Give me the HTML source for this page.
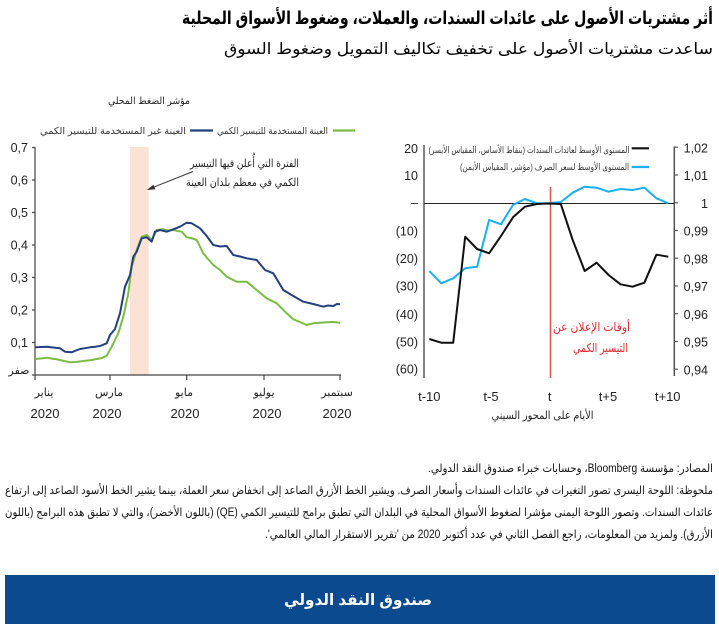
<!DOCTYPE html>
<html><head><meta charset="utf-8"><style>
html,body{margin:0;padding:0;background:#fff;}
svg{display:block;}
.ar{font-family:"Liberation Sans","DejaVu Sans",sans-serif;}
.num{font-family:"Liberation Sans",sans-serif;}
</style></head><body>
<svg width="719" height="624" viewBox="0 0 719 624" xmlns="http://www.w3.org/2000/svg">
<rect width="719" height="624" fill="#fff"/>

<!-- Titles -->
<text class="ar" x="447.5" y="24" font-size="18" font-weight="bold" text-anchor="middle" direction="rtl" textLength="531" lengthAdjust="spacingAndGlyphs" fill="#000">أثر مشتريات الأصول على عائدات السندات، والعملات، وضغوط الأسواق المحلية</text>
<text class="ar" x="468.5" y="54" font-size="15.5" text-anchor="middle" direction="rtl" textLength="489" lengthAdjust="spacingAndGlyphs" fill="#000">ساعدت مشتريات الأصول على تخفيف تكاليف التمويل وضغوط السوق</text>

<!-- LEFT CHART -->
<text class="ar" x="149" y="104" font-size="10" text-anchor="middle" direction="rtl" textLength="82" lengthAdjust="spacingAndGlyphs" fill="#222">مؤشر الضغط المحلي</text>
<text class="ar" x="113" y="134" font-size="9.5" text-anchor="middle" direction="rtl" textLength="146" lengthAdjust="spacingAndGlyphs" fill="#333">العينة غير المستخدمة للتيسير الكمي</text>
<line x1="190" y1="130.5" x2="213" y2="130.5" stroke="#22407e" stroke-width="2.2"/>
<text class="ar" x="272.5" y="134" font-size="9.5" text-anchor="middle" direction="rtl" textLength="111" lengthAdjust="spacingAndGlyphs" fill="#333">العينة المستخدمة للتيسير الكمي</text>
<line x1="333" y1="130.5" x2="355" y2="130.5" stroke="#7cbb44" stroke-width="2.2"/>

<rect x="130" y="147" width="18.7" height="228" fill="#fbe2d4"/>

<g stroke="#444" stroke-width="1.2" fill="none">
<line x1="35" y1="147" x2="35" y2="375"/>
<line x1="35" y1="375" x2="341" y2="375"/>
<line x1="32" y1="147.5" x2="35" y2="147.5"/>
<line x1="32" y1="180" x2="35" y2="180"/>
<line x1="32" y1="212.5" x2="35" y2="212.5"/>
<line x1="32" y1="245" x2="35" y2="245"/>
<line x1="32" y1="277.5" x2="35" y2="277.5"/>
<line x1="32" y1="310" x2="35" y2="310"/>
<line x1="32" y1="342.5" x2="35" y2="342.5"/>
<line x1="32" y1="375" x2="35" y2="375"/>
<line x1="35" y1="375" x2="35" y2="380"/>
<line x1="110" y1="375" x2="110" y2="380"/>
<line x1="186.7" y1="375" x2="186.7" y2="380"/>
<line x1="264" y1="375" x2="264" y2="380"/>
<line x1="340" y1="375" x2="340" y2="380"/>
</g>
<g class="num" font-size="12.5" fill="#222" text-anchor="end">
<text x="28" y="152">0,7</text>
<text x="28" y="184.5">0,6</text>
<text x="28" y="217">0,5</text>
<text x="28" y="249.5">0,4</text>
<text x="28" y="282">0,3</text>
<text x="28" y="314.5">0,2</text>
<text x="28" y="347">0,1</text>
</g>
<text class="ar" x="19" y="374" font-size="11" text-anchor="middle" direction="rtl" fill="#222">صفر</text>
<g class="ar" font-size="11" fill="#222" text-anchor="middle">
<text x="44" y="396" direction="rtl">يناير</text>
<text x="109" y="396" direction="rtl">مارس</text>
<text x="184" y="396" direction="rtl">مايو</text>
<text x="264" y="396" direction="rtl">يوليو</text>
<text x="337" y="396" direction="rtl">سبتمبر</text>
</g>
<g class="num" font-size="13" fill="#222" text-anchor="middle">
<text x="45" y="418">2020</text>
<text x="107" y="418">2020</text>
<text x="185" y="418">2020</text>
<text x="267" y="418">2020</text>
<text x="337" y="418">2020</text>
</g>

<polyline fill="none" stroke="#7cbb44" stroke-width="2" stroke-linejoin="round" points="35,359 41,358.5 46.7,357.7 52,358.6 56.7,359.3 62,360.5 70,362.3 76,362 83.3,361 90,360.3 96.7,359 102,358 106.7,355.7 111.7,346.7 118.3,333.3 123.3,316.7 128.3,293.3 131.7,266.7 136.7,250 141.7,236.7 146.7,235 151.7,240 156.7,230 163.3,229.3 168,230.5 173.3,230 178,231 181.7,231.7 186.7,237.3 191,238 196.7,240 203.3,253.3 208,259 213.3,265 220,270 226.7,276.7 236.7,281.7 246.7,281.7 256.7,290 266.7,298.3 276.7,303.3 286.7,313.3 293.3,319.3 300,322 306.7,325 313.3,323.3 320,322.8 326.7,322.3 333,322 340,322.7"/>
<polyline fill="none" stroke="#22407e" stroke-width="2" stroke-linejoin="round" points="35,347.3 41,347 46.7,346.7 53,347.5 60,348.3 65,351.7 71.7,352.3 76,350.5 80,349 85,348.2 90,347.3 95,346.8 100,346 106.7,343.3 110,335 115,329 120,313.3 125,286.7 130,275 133.3,256.7 136.7,251.7 141.7,238.3 146.7,237.3 151.7,241.7 155,231.7 160,230 166.7,231.7 173.3,229.3 180,226.7 186.7,222.7 191.7,223.3 200,228.3 206.7,236 213.3,245 220,246.5 226.7,246 233.3,255 240,256.5 246.7,258.3 256.7,260 265,270 273.3,273.3 283.3,290 293.3,296 303.3,301.7 313.3,304 323.3,306.7 328,305.5 333.3,306 337,304 340,304.3"/>

<g class="ar" font-size="11" fill="#222" text-anchor="middle" direction="rtl">
<text x="244.5" y="167" textLength="109" lengthAdjust="spacingAndGlyphs">الفترة التي أُعلن فيها التيسير</text>
<text x="242.5" y="186" textLength="113" lengthAdjust="spacingAndGlyphs">الكمي في معظم بلدان العينة</text>
</g>
<line x1="193" y1="171.5" x2="152" y2="187.8" stroke="#333" stroke-width="1"/>
<polygon points="146.7,190 153.5,184.8 155.3,189.3" fill="#333"/>

<!-- RIGHT CHART -->
<text class="ar" x="529" y="153" font-size="9" text-anchor="middle" direction="rtl" textLength="201" lengthAdjust="spacingAndGlyphs" fill="#333">المستوى الأوسط لعائدات السندات (بنقاط الأساس، المقياس الأيسر)</text>
<line x1="631.7" y1="148.3" x2="649" y2="148.3" stroke="#111" stroke-width="2.2"/>
<text class="ar" x="544.5" y="170" font-size="9" text-anchor="middle" direction="rtl" textLength="169" lengthAdjust="spacingAndGlyphs" fill="#333">المستوى الأوسط لسعر الصرف (مؤشر، المقياس الأيمن)</text>
<line x1="631.7" y1="167" x2="649" y2="167" stroke="#1ab0ee" stroke-width="2.2"/>

<line x1="424" y1="145" x2="424" y2="378" stroke="#333" stroke-width="1.2"/>
<line x1="674.3" y1="146.5" x2="674.3" y2="376" stroke="#555" stroke-width="1.5"/>
<g stroke="#555" stroke-width="1.2">
<line x1="674.3" y1="147.2" x2="678" y2="147.2"/>
<line x1="674.3" y1="175" x2="678" y2="175"/>
<line x1="674.3" y1="202.7" x2="678" y2="202.7"/>
<line x1="674.3" y1="230.5" x2="678" y2="230.5"/>
<line x1="674.3" y1="258.2" x2="678" y2="258.2"/>
<line x1="674.3" y1="286" x2="678" y2="286"/>
<line x1="674.3" y1="313.7" x2="678" y2="313.7"/>
<line x1="674.3" y1="341.5" x2="678" y2="341.5"/>
<line x1="674.3" y1="369.2" x2="678" y2="369.2"/>
</g>
<line x1="424" y1="203.5" x2="674" y2="203.5" stroke="#222" stroke-width="1"/>

<g class="num" font-size="12.5" fill="#222" text-anchor="end">
<text x="418" y="153">20</text>
<text x="418" y="180">10</text>
<text x="418" y="207">–</text>
<text x="418" y="235.5">(10)</text>
<text x="418" y="263">(20)</text>
<text x="418" y="290.5">(30)</text>
<text x="418" y="319">(40)</text>
<text x="418" y="346.5">(50)</text>
<text x="418" y="373.5">(60)</text>
</g>
<g class="num" font-size="12.5" fill="#222" text-anchor="end">
<text x="708" y="152.5">1,02</text>
<text x="708" y="180.2">1,01</text>
<text x="708" y="208">1</text>
<text x="708" y="235.7">0,99</text>
<text x="708" y="263.5">0,98</text>
<text x="708" y="291.2">0,97</text>
<text x="708" y="319">0,96</text>
<text x="708" y="346.7">0,95</text>
<text x="708" y="374.5">0,94</text>
</g>

<line x1="550.5" y1="187" x2="550.5" y2="378" stroke="#d9534f" stroke-width="1.5"/>

<polyline fill="none" stroke="#1ab0ee" stroke-width="2" stroke-linejoin="round" points="429.3,271 441.3,283.3 453.2,278.3 465.2,268.3 477.1,266.7 489.1,220 501,224.3 513,205 524.9,199 536.9,203.3 548.8,203.3 560.8,202 572.7,192.7 584.7,186.7 596.6,187.7 608.6,191.7 620.5,189 632.5,190 644.4,187.7 656.4,198.3 668.3,203.3"/>
<polyline fill="none" stroke="#111" stroke-width="2" stroke-linejoin="round" points="429.3,339 441.3,342.7 453.2,342.7 465.2,236.7 477.1,249 489.1,253.3 501,236 513,217.3 524.9,206.7 536.9,204 548.8,203.5 560.8,204 572.7,240 584.7,271 596.6,262.7 608.6,275 620.5,284.3 632.5,286.7 644.4,282.7 656.4,254.7 668.3,256.7"/>

<g class="ar" font-size="12" fill="#e02a2a" text-anchor="middle" direction="rtl">
<text x="591.5" y="331" textLength="77" lengthAdjust="spacingAndGlyphs">أوقات الإعلان عن</text>
<text x="600.5" y="352" textLength="55" lengthAdjust="spacingAndGlyphs">التيسير الكمي</text>
</g>

<g class="num" font-size="13" fill="#222" text-anchor="middle">
<text x="429.3" y="401">t-10</text>
<text x="491" y="401">t-5</text>
<text x="549.7" y="401">t</text>
<text x="608" y="401">t+5</text>
<text x="667.7" y="401">t+10</text>
</g>
<text class="ar" x="542.5" y="419" font-size="11" text-anchor="middle" direction="rtl" textLength="102" lengthAdjust="spacingAndGlyphs" fill="#222">الأيام على المحور السيني</text>

<!-- NOTES -->
<g class="ar" font-size="11.5" fill="#111" text-anchor="middle" direction="rtl">
<text x="570.5" y="472" textLength="285" lengthAdjust="spacingAndGlyphs">المصادر: مؤسسة Bloomberg، وحسابات خبراء صندوق النقد الدولي.</text>
<text x="359" y="494" textLength="708" lengthAdjust="spacingAndGlyphs">ملحوظة: اللوحة اليسرى تصور التغيرات في عائدات السندات وأسعار الصرف. ويشير الخط الأزرق الصاعد إلى انخفاض سعر العملة، بينما يشير الخط الأسود الصاعد إلى ارتفاع</text>
<text x="359" y="516" textLength="708" lengthAdjust="spacingAndGlyphs">عائدات السندات. وتصور اللوحة اليمنى مؤشرا لضغوط الأسواق المحلية في البلدان التي تطبق برامج للتيسير الكمي (QE) (باللون الأخضر)، والتي لا تطبق هذه البرامج (باللون</text>
<text x="489" y="538" textLength="448" lengthAdjust="spacingAndGlyphs">الأزرق). ولمزيد من المعلومات، راجع الفصل الثاني في عدد أكتوبر 2020 من 'تقرير الاستقرار المالي العالمي'.</text>
</g>

<!-- FOOTER -->
<rect x="5" y="575" width="710" height="49" fill="#0c4a8f"/>
<text class="ar" x="358" y="605" font-size="15.5" font-weight="bold" text-anchor="middle" direction="rtl" textLength="148" lengthAdjust="spacingAndGlyphs" fill="#fff">صندوق النقد الدولي</text>
</svg>
</body></html>
